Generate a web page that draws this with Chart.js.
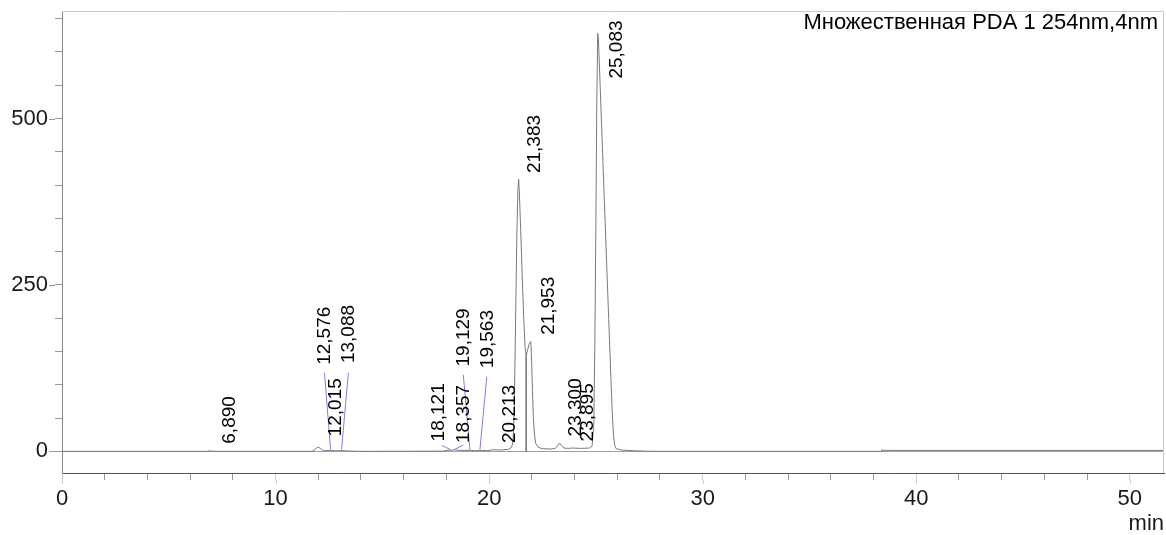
<!DOCTYPE html>
<html>
<head>
<meta charset="utf-8">
<title>Хроматограмма</title>
<script src="https://cdn.jsdelivr.net/npm/chart.js@4.4.0/dist/chart.umd.min.js"></script>
<style>
  html, body { margin: 0; padding: 0; background: #fff; }
  #wrap { width: 1166px; height: 535px; }
</style>
</head>
<body>
<div id="wrap"><canvas id="chromChart" width="1166" height="535"></canvas></div>
<script>
// detector trace: retention time (min) and signal (mAU)
const times = [0, 6.80, 6.89, 7.00, 7.40, 11.70, 11.80, 11.90, 12.00, 12.10, 12.20, 12.30, 12.576, 12.80, 13.088, 13.40, 14.00,
  17.80, 18.121, 18.25, 18.357, 18.60, 19.129, 19.35, 19.563, 19.90, 20.213, 20.50, 20.90, 21.05, 21.12, 21.18, 21.24,
  21.30, 21.35, 21.383, 21.42, 21.48, 21.55, 21.62, 21.68, 21.73, 21.80, 21.87, 21.953, 21.99, 22.03, 22.07, 22.12,
  22.18, 22.30, 22.50, 22.90, 23.10, 23.20, 23.30, 23.40, 23.50, 23.70, 23.895, 24.30, 24.70, 24.82, 24.90, 24.95,
  25.00, 25.04, 25.083, 25.12, 25.20, 25.30, 25.40, 25.50, 25.60, 25.70, 25.76, 25.82, 25.88, 25.95, 26.20, 26.70,
  27.30, 28.00, 38.35, 38.38, 38.42, 51.60];
const signal = [0, 0, 0.8, 0.3, 0, 0, 1.5, 4.5, 6.5, 4.5, 2, 1, 1.5, 0.8, 1.2, 0.5, 0,
  0.3, 2, 1.5, 2.5, 1.5, 1.5, 1, 1.5, 1, 2.5, 2, 3, 6, 15, 70, 200,
  330, 395, 409, 385, 330, 262, 200, 158, 143, 152, 161, 165, 135, 90, 52, 26,
  12, 6, 4, 3.5, 4.5, 8, 12.5, 8.5, 5, 4.5, 5, 4.5, 5, 8, 40, 160,
  350, 520, 628, 618, 548, 460, 372, 285, 198, 112, 62, 25, 9, 4, 2, 1,
  0.3, 0, 0, 2.5, 1.5, 1.5];

const peakNames = ['6,890', '12,015', '12,576', '13,088', '18,121', '18,357', '19,129',
  '19,563', '20,213', '21,383', '21,953', '23,300', '23,895', '25,083'];

// start of each rotated label (min, mAU)
const labelPos = [[7.84, 11.5], [12.80, 22.5], [12.29, 130], [13.44, 132.6], [17.65, 15], [18.83, 12.6], [18.83, 127.5],
  [19.93, 125], [20.98, 12.6], [22.15, 418], [22.80, 175], [24.07, 22.5], [24.60, 15], [25.97, 560]];

// leader lines from moved labels back to the peak
const leaderFrom = [[12.29, 118], [13.41, 118], [17.78, 9], [18.79, 9.5], [18.79, 115], [19.89, 112.5]];
const leaderTo = [[12.576, 2.5], [13.088, 2.5], [18.20, 2.5], [18.36, 2.5], [19.10, 2.5], [19.57, 2.5]];

// split line between 21,383 and 21,953
const dropTime = 21.73;
const dropTop = 143;

const chartTitle = 'Множественная PDA 1 254nm,4nm';
const FONT = '"Liberation Sans", Arial, sans-serif';

const datasets = [{
  data: times.map((t, i) => ({x: t, y: signal[i]})),
  borderColor: '#7a7a7a',
  borderWidth: 1,
  pointRadius: 0,
  showLine: true
}, {
  data: [{x: dropTime, y: 0}, {x: dropTime, y: dropTop}],
  borderColor: '#222',
  borderWidth: 1,
  pointRadius: 0,
  showLine: true
}];
leaderFrom.forEach((p, i) => {
  datasets.push({
    data: [{x: p[0], y: p[1]}, {x: leaderTo[i][0], y: leaderTo[i][1]}],
    borderColor: '#8080f0',
    borderWidth: 1,
    pointRadius: 0,
    showLine: true
  });
});

const chromDecor = {
  id: 'chromDecor',
  afterDatasetsDraw(chart) {
    const {ctx, chartArea: a, scales: {x, y}} = chart;
    ctx.save();
    // light frame on top and right
    ctx.strokeStyle = '#cccccc';
    ctx.lineWidth = 1;
    ctx.beginPath();
    ctx.moveTo(a.left, a.top + 0.5);
    ctx.lineTo(a.right - 0.5, a.top + 0.5);
    ctx.lineTo(a.right - 0.5, a.bottom);
    ctx.stroke();

    // longer marks for labelled ticks
    ctx.strokeStyle = '#999';
    ctx.beginPath();
    y.ticks.forEach(t => {
      if (t.value % 250 === 0) {
        const py = Math.round(y.getPixelForValue(t.value)) + 0.5;
        ctx.moveTo(a.left - 13, py);
        ctx.lineTo(a.left - 7, py);
      }
    });
    ctx.stroke();
    ctx.strokeStyle = '#cfcfcf';
    ctx.beginPath();
    x.ticks.forEach(t => {
      if (t.value % 10 === 0) {
        const px = Math.round(x.getPixelForValue(t.value)) + 0.5;
        ctx.moveTo(px, a.bottom + 7);
        ctx.lineTo(px, a.bottom + 11);
      }
    });
    ctx.stroke();

    // peak retention time labels
    ctx.fillStyle = '#000';
    ctx.font = '19px ' + FONT;
    ctx.textAlign = 'left';
    ctx.textBaseline = 'middle';
    peakNames.forEach((name, i) => {
      ctx.save();
      ctx.translate(x.getPixelForValue(labelPos[i][0]), y.getPixelForValue(labelPos[i][1]));
      ctx.rotate(-Math.PI / 2);
      ctx.fillText(name, 0, 0);
      ctx.restore();
    });

    ctx.font = '22px ' + FONT;
    ctx.textAlign = 'right';
    ctx.textBaseline = 'alphabetic';
    ctx.fillText(chartTitle, a.right - 6, a.top + 18);
    ctx.restore();
  }
};

const config = {
  type: 'scatter',
  data: {datasets: datasets},
  options: {
    responsive: false,
    animation: false,
    layout: {padding: {top: 11, right: 2, left: 0, bottom: 0}},
    plugins: {legend: {display: false}, tooltip: {enabled: false}},
    scales: {
      x: {
        type: 'linear',
        min: 0,
        max: 51.6,
        afterFit: s => {
          s.height = 62;
          s.paddingLeft = 0;
          s.paddingRight = 0;
        },
        border: {color: '#555', width: 1},
        grid: {
          drawOnChartArea: false,
          tickLength: 7,
          tickColor: c => (c.tick && c.tick.value % 10 === 0) ? '#cfcfcf' : '#999'
        },
        ticks: {
          stepSize: 2,
          includeBounds: false,
          autoSkip: false,
          maxRotation: 0,
          padding: 6,
          color: '#1a1a1a',
          font: {family: FONT, size: 22},
          callback: v => v % 10 === 0 ? v : ''
        },
        title: {
          display: true,
          text: 'min',
          align: 'end',
          color: '#1a1a1a',
          font: {family: FONT, size: 22},
          padding: {top: 0, bottom: -2}
        }
      },
      y: {
        min: -32.5,
        max: 661.5,
        afterFit: s => {
          s.width = 62;
          s.paddingTop = 0;
          s.paddingBottom = 0;
        },
        border: {color: '#888', width: 1},
        grid: {
          drawOnChartArea: true,
          tickLength: 7,
          tickColor: '#999',
          color: c => (c.tick && c.tick.value === 0) ? '#a0a0a0' : 'rgba(0,0,0,0)'
        },
        ticks: {
          stepSize: 50,
          includeBounds: false,
          autoSkip: false,
          padding: 7,
          color: '#1a1a1a',
          font: {family: FONT, size: 22},
          callback: v => v % 250 === 0 ? v : ''
        }
      }
    }
  },
  plugins: [chromDecor]
};

const ctx = document.getElementById('chromChart').getContext('2d');
const chromChart = new Chart(ctx, config);
</script>
</body>
</html>
